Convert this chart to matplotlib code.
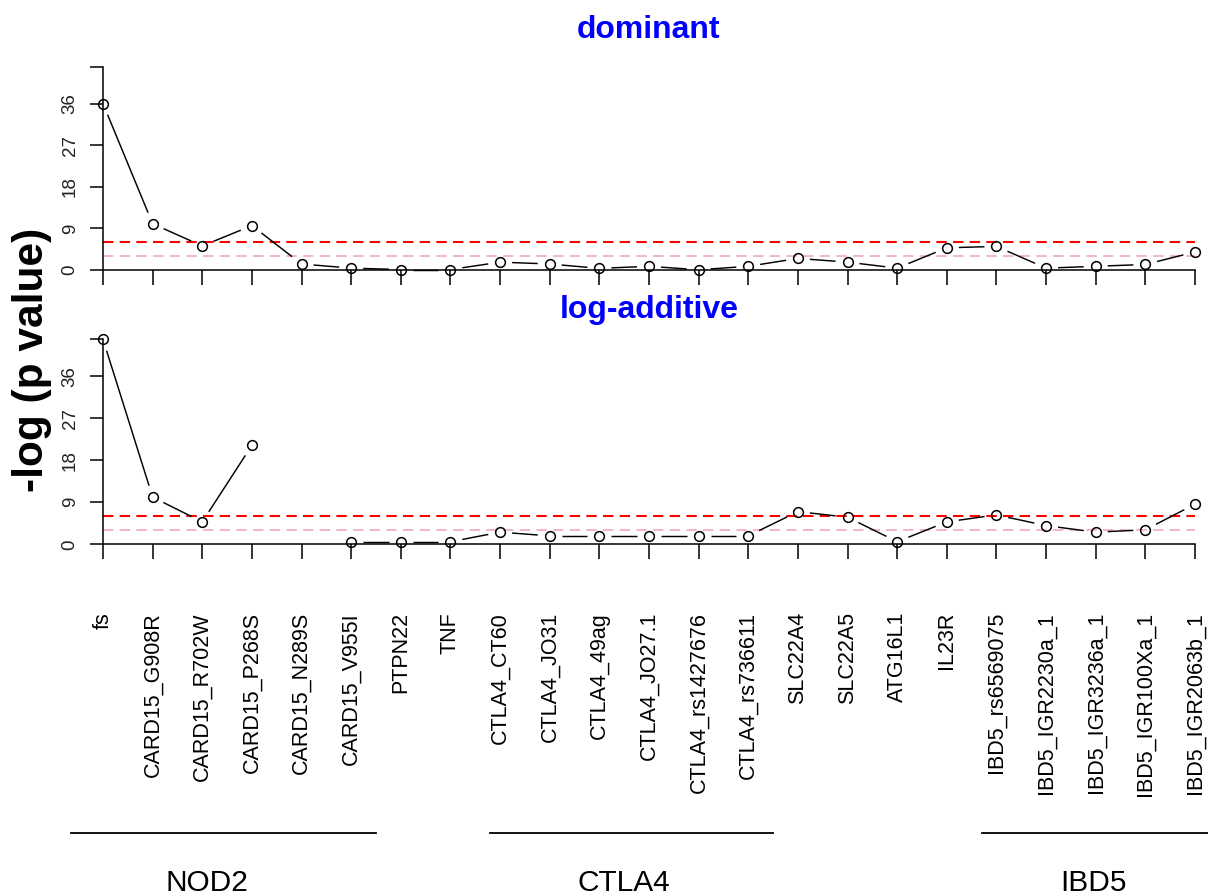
import numpy as np
import matplotlib
matplotlib.use("Agg")
import matplotlib.pyplot as plt

plt.rcParams["font.family"] = ["Liberation Sans", "DejaVu Sans"]
plt.rcParams["lines.scale_dashes"] = False

# SNP markers along the x axis
markers = ["fs", "CARD15_G908R", "CARD15_R702W", "CARD15_P268S", "CARD15_N289S",
           "CARD15_V955I", "PTPN22", "TNF", "CTLA4_CT60", "CTLA4_JO31", "CTLA4_49ag",
           "CTLA4_JO27.1", "CTLA4_rs1427676", "CTLA4_rs736611", "SLC22A4", "SLC22A5",
           "ATG16L1", "IL23R", "IBD5_rs6569075", "IBD5_IGR2230a_1", "IBD5_IGR3236a_1",
           "IBD5_IGR100Xa_1", "IBD5_IGR2063b_1"]

# -log(p value) per model
dominant = [36.0, 10.0, 5.2, 9.6, 1.3, 0.4, 0.1, 0.1, 1.7, 1.3, 0.35, 0.8, 0.05,
            0.8, 2.5, 1.7, 0.4, 4.8, 5.1, 0.4, 0.8, 1.2, 3.9]
log_additive = [43.9, 10.1, 4.8, 21.2, np.nan, 0.55, 0.55, 0.55, 2.6, 1.8, 1.8, 1.8,
                1.8, 1.8, 7.0, 5.8, 0.55, 4.8, 6.3, 4.0, 2.6, 3.1, 8.6]

# significance thresholds
thr_strong = 6
thr_weak = 3

# y axis ticks
yticks = [0, 9, 18, 27, 36]

# gene groups: (name, span start, span end, label position) in marker index units
groups = [("NOD2", -0.65, 5.5, 2.1),
          ("CTLA4", 7.8, 13.5, 10.5),
          ("IBD5", 17.7, 22.3, 19.95)]

W, H = 1208, 896
fig = plt.figure(figsize=(W / 100, H / 100), dpi=100)

def px_axes(left, top, right, bottom):
    return fig.add_axes([left / W, 1 - bottom / H, (right - left) / W, (bottom - top) / H])

ax1 = px_axes(103, 67, 1195, 270)
ax2 = px_axes(103, 339.3, 1195, 544.3)

x = np.arange(len(markers))
ymax = np.nanmax(np.concatenate([dominant, log_additive]))


def draw_gapped(ax, xs, ys, gap=12):
    """Connect points like R's type='b': segments stop short of each point."""
    pts = ax.transData.transform(np.column_stack([xs, ys]))
    inv = ax.transData.inverted()
    for i in range(len(xs) - 1):
        if not (np.isfinite(ys[i]) and np.isfinite(ys[i + 1])):
            continue
        p0, p1 = pts[i], pts[i + 1]
        d = p1 - p0
        L = np.hypot(*d)
        if L <= 2 * gap:
            continue
        u = d / L
        a = inv.transform(p0 + u * gap)
        b = inv.transform(p1 - u * gap)
        ax.plot([a[0], b[0]], [a[1], b[1]], color="black", lw=1.05,
                solid_capstyle="butt", clip_on=False, zorder=3)
    ax.plot(xs, ys, linestyle="none", marker="o", markersize=7,
            markerfacecolor="none", markeredgecolor="black", markeredgewidth=1.1,
            clip_on=False, zorder=4)


for ax, vals, title, ty in [(ax1, dominant, "dominant", 1.182),
                            (ax2, log_additive, "log-additive", 1.143)]:
    ax.set_xlim(0, len(markers) - 1)
    ax.set_ylim(0, ymax)
    for s in ["top", "right"]:
        ax.spines[s].set_visible(False)
    for s in ["left", "bottom"]:
        ax.spines[s].set_linewidth(1.1)
    ax.axhline(thr_strong, color="#FF0000", lw=1.5, dashes=(7.5, 4.5), zorder=2, clip_on=False)
    ax.axhline(thr_weak, color="#F4A9B8", lw=1.2, dashes=(7.5, 4.5), zorder=2, clip_on=False)
    draw_gapped(ax, x, np.asarray(vals, dtype=float))
    ax.set_yticks(yticks + [ymax])
    ax.set_yticklabels([str(t) for t in yticks] + [""], rotation=90, va="center",
                       fontsize=13.5, color="#222222")
    ax.tick_params(axis="y", length=9.5, width=1.1, pad=8)
    ax.set_xticks(x)
    ax.tick_params(axis="x", length=10.8, width=1.1)
    ax.text(0.5, ty, title, transform=ax.transAxes, ha="center", va="center",
            fontsize=23, fontweight="bold", color="#0000FF")

ax1.set_xticklabels([])
ax2.set_xticklabels(markers, rotation=90, va="top", ha="center", fontsize=15.5)
ax2.tick_params(axis="x", pad=38)

fig.text(32 / W, 1 - 360 / H, "-log (p value)", rotation=90, ha="center", va="center",
         fontsize=30.5, fontweight="bold")

# gene group brackets below the marker names
yline = -(833 - 544.3) / (544.3 - 339.3)
ylab = -(883 - 544.3) / (544.3 - 339.3)
trans = ax2.get_xaxis_transform()
for name, x0, x1, xc in groups:
    ax2.plot([x0, x1], [yline, yline], transform=trans, color="black", lw=1.3, clip_on=False)
    ax2.text(xc, ylab, name, transform=trans, ha="center", va="center", fontsize=21.5)

fig.savefig("out.png", dpi=100, facecolor="white")
